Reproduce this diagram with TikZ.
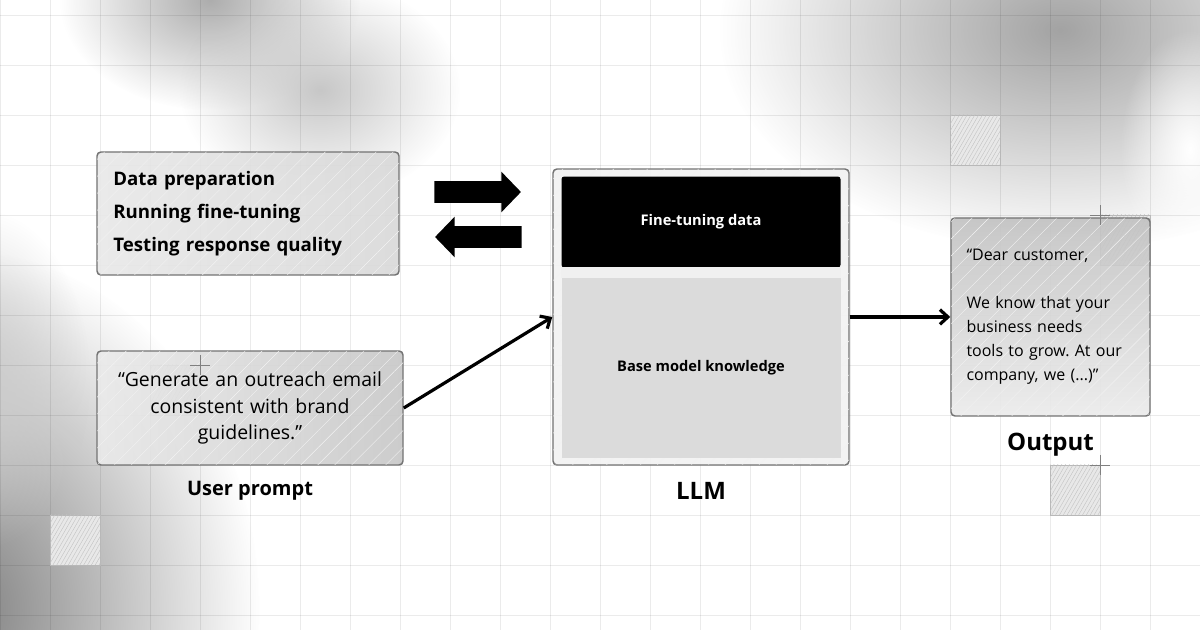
\documentclass[tikz,border=0pt]{standalone}
\usepackage{fontspec}
\setmainfont{Open Sans}
\frenchspacing
\usetikzlibrary{positioning, arrows.meta, shapes.arrows, fadings, patterns.meta}

\tikzfading[name=softblob, inner color=transparent!0, outer color=transparent!100]

\begin{document}
\begin{tikzpicture}[
    x=0.75pt, y=-0.75pt,
    card/.style={rectangle, draw=black!55, line width=1.1pt, rounded corners=3pt, inner sep=0pt, fill opacity=0.9, text opacity=1},
    hatch/.style={postaction={pattern={Lines[angle=45, distance=9pt, line width=0.3pt]}, pattern color=black!5}},
    gridline/.style={draw=black, opacity=0.08, line width=0.6pt},
    hatchsq/.style={draw=black!28, line width=0.4pt, fill=black!9, postaction={pattern={Lines[angle=60, distance=2.5pt, line width=0.3pt]}, pattern color=black!24}},
    crossmark/.style={black!50, line width=0.5pt},
    boxtitle/.style={inner sep=0pt, font=\bfseries\fontsize{15}{18}\selectfont},
    bigtitle/.style={inner sep=0pt, font=\bfseries\fontsize{18}{22}\selectfont},
    blockarr/.style={single arrow, fill=black, inner xsep=0pt, inner ysep=7.9pt, minimum height=65pt, single arrow head extend=7.1pt, single arrow tip angle=92},
    arr/.style={-{Straight Barb[length=6pt, width=11pt]}, line width=2.4pt},
    blob/.style={path fading=softblob},
]
\useasboundingbox (0,0) rectangle (1200,630);

% --- Background ---
\fill[white] (0,0) rectangle (1200,630);
\fill[black!32, blob] (210,0) ellipse (150 and 110);
\fill[black!22, blob] (320,90) ellipse (140 and 110);
\fill[black!36, blob] (1060,30) ellipse (340 and 220);
\fill[white, blob] (1190,150) ellipse (70 and 120);
\fill[black!50, blob] (-40,610) ellipse (300 and 360);
\fill[black!20, blob] (-20,380) ellipse (110 and 170);

% --- Grid ---
\foreach \gx in {0,50,...,1200}
  \draw[gridline] (\gx,0) -- (\gx,630);
\foreach \gy in {15,65,...,615}
  \draw[gridline] (0,\gy) -- (1200,\gy);

\filldraw[hatchsq] (50,515) rectangle (100,565);
\filldraw[hatchsq] (950,115) rectangle (1000,165);
\filldraw[hatchsq] (1050,465) rectangle (1100,515);
\filldraw[hatchsq] (1100,215) rectangle (1150,265);
\filldraw[hatchsq] (150,365) rectangle (200,415);

% --- Inputs ---
\node[card, hatch, left color=black!9, middle color=black!21, right color=black!15,
      minimum width=226.5pt, minimum height=92.25pt, text width=202pt, align=left,
      font=\bfseries\fontsize{14}{24.75}\selectfont] (tasks) at (248,213.5)
  {Data preparation\\Running fine-tuning\\Testing response quality};
\node[card, hatch, left color=black!8, right color=black!22,
      minimum width=229.5pt, minimum height=85.5pt, text width=222pt, align=center,
      font=\fontsize{14.6}{20}\selectfont] (prompt) at (250,408)
  {“Generate an outreach email\\consistent with brand\\guidelines.”};
\node[boxtitle, below=11.25pt of prompt] (prompttitle) {User prompt};

\node[blockarr, anchor=tail] (pushright) at (434,192) {};
\node[blockarr, shape border rotate=180, anchor=tail] (pullleft) at (522,237) {};

% --- LLM ---
\node[card, hatch, fill=black!5, minimum width=222pt, minimum height=222pt] (llm) at (701,317) {};
\node[fill=black, rounded corners=2pt, minimum width=209.25pt, minimum height=68.25pt,
      text=white, font=\bfseries\fontsize{11}{14}\selectfont, below=6pt of llm.north] (ftdata) {Fine-tuning data};
\node[fill=black!14, minimum width=209.25pt, minimum height=135pt,
      font=\bfseries\fontsize{11}{14}\selectfont, below=7.5pt of ftdata] (basek) {Base model knowledge};
\shade[left color=black!6, middle color=black!32, right color=black!6] (ftdata.south west) rectangle (basek.north east);
\node[bigtitle, below=12pt of llm] (llmtitle) {LLM};

% --- Output ---
\node[card, hatch, shading angle=-45, top color=black!24, bottom color=black!8,
      minimum width=149.25pt, minimum height=148.5pt, text width=126pt, align=left,
      font=\fontsize{12}{18}\selectfont] (output) at (1050.5,317)
  {“Dear customer,\\[18pt]We know that your\\business needs\\tools to grow. At our\\company, we (...)”};
\node[bigtitle, below=12pt of output] (outtitle) {Output};

% --- Arrows ---
\draw[arr] (prompt.east) -- (llm.west);
\draw[arr] (llm.east) -- (output.west);

\foreach \cx/\cy in {200/365, 1100/215, 1100/465}
  \draw[crossmark] (\cx-10,\cy) -- (\cx+10,\cy) (\cx,\cy-10) -- (\cx,\cy+10);
\end{tikzpicture}
\end{document}
